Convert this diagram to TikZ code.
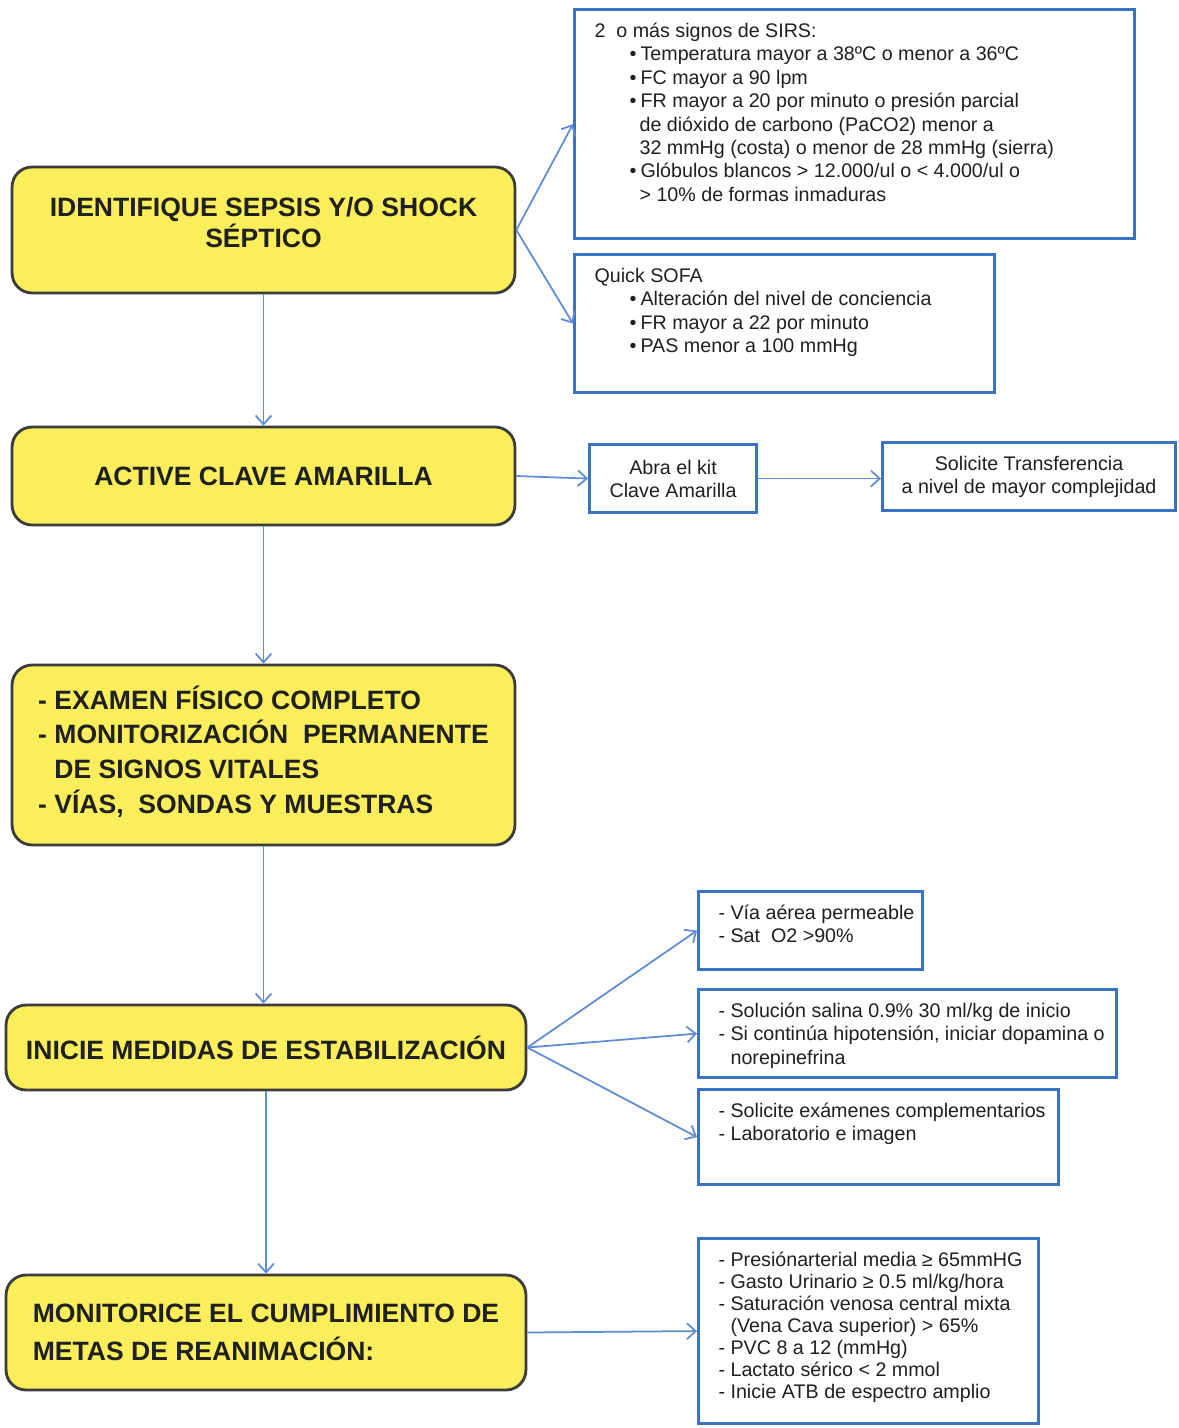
\documentclass[tikz,border=0pt]{standalone}
\usepackage{fontspec}
\setmainfont{Liberation Sans}
\usetikzlibrary{arrows.meta}
\definecolor{paleyellow}{HTML}{FAEE5C}
\definecolor{edgegray}{HTML}{3C3C3C}
\definecolor{boxblue}{HTML}{3A72C6}
\definecolor{lineblue}{HTML}{5F8DD6}
\definecolor{inkgray}{HTML}{202020}
\newcommand{\bul}{\hspace*{0.7cm}\makebox[0.22cm][l]{\textbullet}}
\newcommand{\cont}{\hspace*{0.9cm}}
\newcommand{\dsh}{\phantom{-~}}
\newcommand{\infotext}[3]{\begin{minipage}[c][#2][t]{#1}\raggedright\leftskip=0.3cm #3\end{minipage}}

\begin{document}
\begin{tikzpicture}[x=0.02cm, y=-0.02cm,
	stage/.style={draw=edgegray, line width=1.6pt, fill=paleyellow, rounded corners=0.4cm, text=inkgray, font=\bfseries\fontsize{15.1}{17.6}\selectfont, align=center},
	info/.style={draw=boxblue, line width=1.8pt, fill=white, text=inkgray, font=\fontsize{11.2}{13.3}\selectfont, anchor=north west, inner xsep=0.1cm, inner ysep=0.27cm},
	kit/.style={draw=boxblue, line width=1.8pt, fill=white, text=inkgray, font=\fontsize{11.2}{13}\selectfont, align=center, anchor=north west, inner sep=0pt},
	flow/.style={draw=lineblue, line width=1pt, -{Straight Barb[length=5pt,width=9pt]}}]
	% Boxes, texts and arrows:
	\fill[white] (0,0) rectangle (1178,1428);
	\useasboundingbox (0,0) rectangle (1178,1428);
	\node[stage, minimum width=10.06cm, minimum height=2.52cm] (ident) at (263.5,230) {IDENTIFIQUE SEPSIS Y/O SHOCK\\SÉPTICO\\[-8.6pt]\mbox{}};
	\node[stage, minimum width=10.06cm, minimum height=1.96cm] (clave) at (263.5,476) {ACTIVE CLAVE AMARILLA};
	\node[stage, minimum width=10.06cm, minimum height=3.6cm, align=left] (examen) at (263.5,755) {- EXAMEN FÍSICO COMPLETO\\[2.2pt]- MONITORIZACIÓN~~PERMANENTE\\[2.2pt]\dsh DE SIGNOS VITALES\\[2.2pt]- VÍAS,~~SONDAS Y MUESTRAS\\[-11.4pt]\mbox{}};
	\node[stage, minimum width=10.4cm, minimum height=1.7cm] (estab) at (266,1047.5) {INICIE MEDIDAS DE ESTABILIZACIÓN};
	\node[stage, minimum width=10.4cm, minimum height=2.3cm, align=left] (metas) at (266,1332.5) {MONITORICE EL CUMPLIMIENTO DE\\[4.4pt]METAS DE REANIMACIÓN:};
	\node[info] (sirs) at (573,8) {\infotext{11.0cm}{4.04cm}{2~~o más signos de SIRS:\\
		\bul Temperatura mayor a 38ºC o menor a 36ºC\\
		\bul FC mayor a 90 lpm\\
		\bul FR mayor a 20 por minuto o presión parcial\\
		\cont de dióxido de carbono (PaCO2) menor a\\
		\cont 32 mmHg (costa) o menor de 28 mmHg (sierra)\\
		\bul Glóbulos blancos > 12.000/ul o < 4.000/ul o\\
		\cont > 10\% de formas inmaduras}};
	\node[info] (qsofa) at (573,253) {\infotext{8.2cm}{2.22cm}{Quick SOFA\\
		\bul Alteración del nivel de conciencia\\
		\bul FR mayor a 22 por minuto\\
		\bul PAS menor a 100 mmHg}};
	\node[kit, minimum width=3.34cm, minimum height=1.36cm] (kitbox) at (588,443) {Abra el kit\\Clave Amarilla};
	\node[kit, minimum width=5.86cm, minimum height=1.36cm] (transf) at (881,441) {Solicite Transferencia\\a nivel de mayor complejidad};
	\node[info] (via) at (697,890) {\infotext{4.28cm}{1.02cm}{- Vía aérea permeable\\- Sat~~O2 >90\%}};
	\node[info] (salina) at (697,988) {\infotext{8.16cm}{1.22cm}{- Solución salina 0.9\% 30 ml/kg de inicio\\- Si continúa hipotensión, iniciar dopamina o\\\dsh norepinefrina}};
	\node[info] (labs) at (697,1088) {\infotext{7.0cm}{1.36cm}{- Solicite exámenes complementarios\\- Laboratorio e imagen}};
	\node[info] (goals) at (697,1237) {\infotext{6.6cm}{3.16cm}{\fontsize{11.2}{12.5}\selectfont
		- Presiónarterial media ≥ 65mmHG\\
		- Gasto Urinario ≥ 0.5 ml/kg/hora\\
		- Saturación venosa central mixta\\
		\dsh(Vena Cava superior) > 65\%\\
		- PVC 8 a 12 (mmHg)\\
		- Lactato sérico < 2 mmol\\
		- Inicie ATB de espectro amplio}};
	\draw[flow] (ident.east) -- (sirs.west);
	\draw[flow] (ident.east) -- (qsofa.west);
	\draw[flow] (ident.south) -- (clave.north);
	\draw[flow] (clave.east) -- (kitbox.west);
	\draw[flow] (kitbox.east) -- (kitbox.east -| transf.west);
	\draw[flow] (clave.south) -- (examen.north);
	\draw[flow] (examen.south) -- (examen.south |- estab.north);
	\draw[flow] (estab.east) -- (via.west);
	\draw[flow] (estab.east) -- (salina.west);
	\draw[flow] (estab.east) -- (labs.west);
	\draw[flow] (estab.south) -- (estab.south |- metas.north);
	\draw[flow] (metas.east) -- (goals.west);
\end{tikzpicture}
\end{document}
